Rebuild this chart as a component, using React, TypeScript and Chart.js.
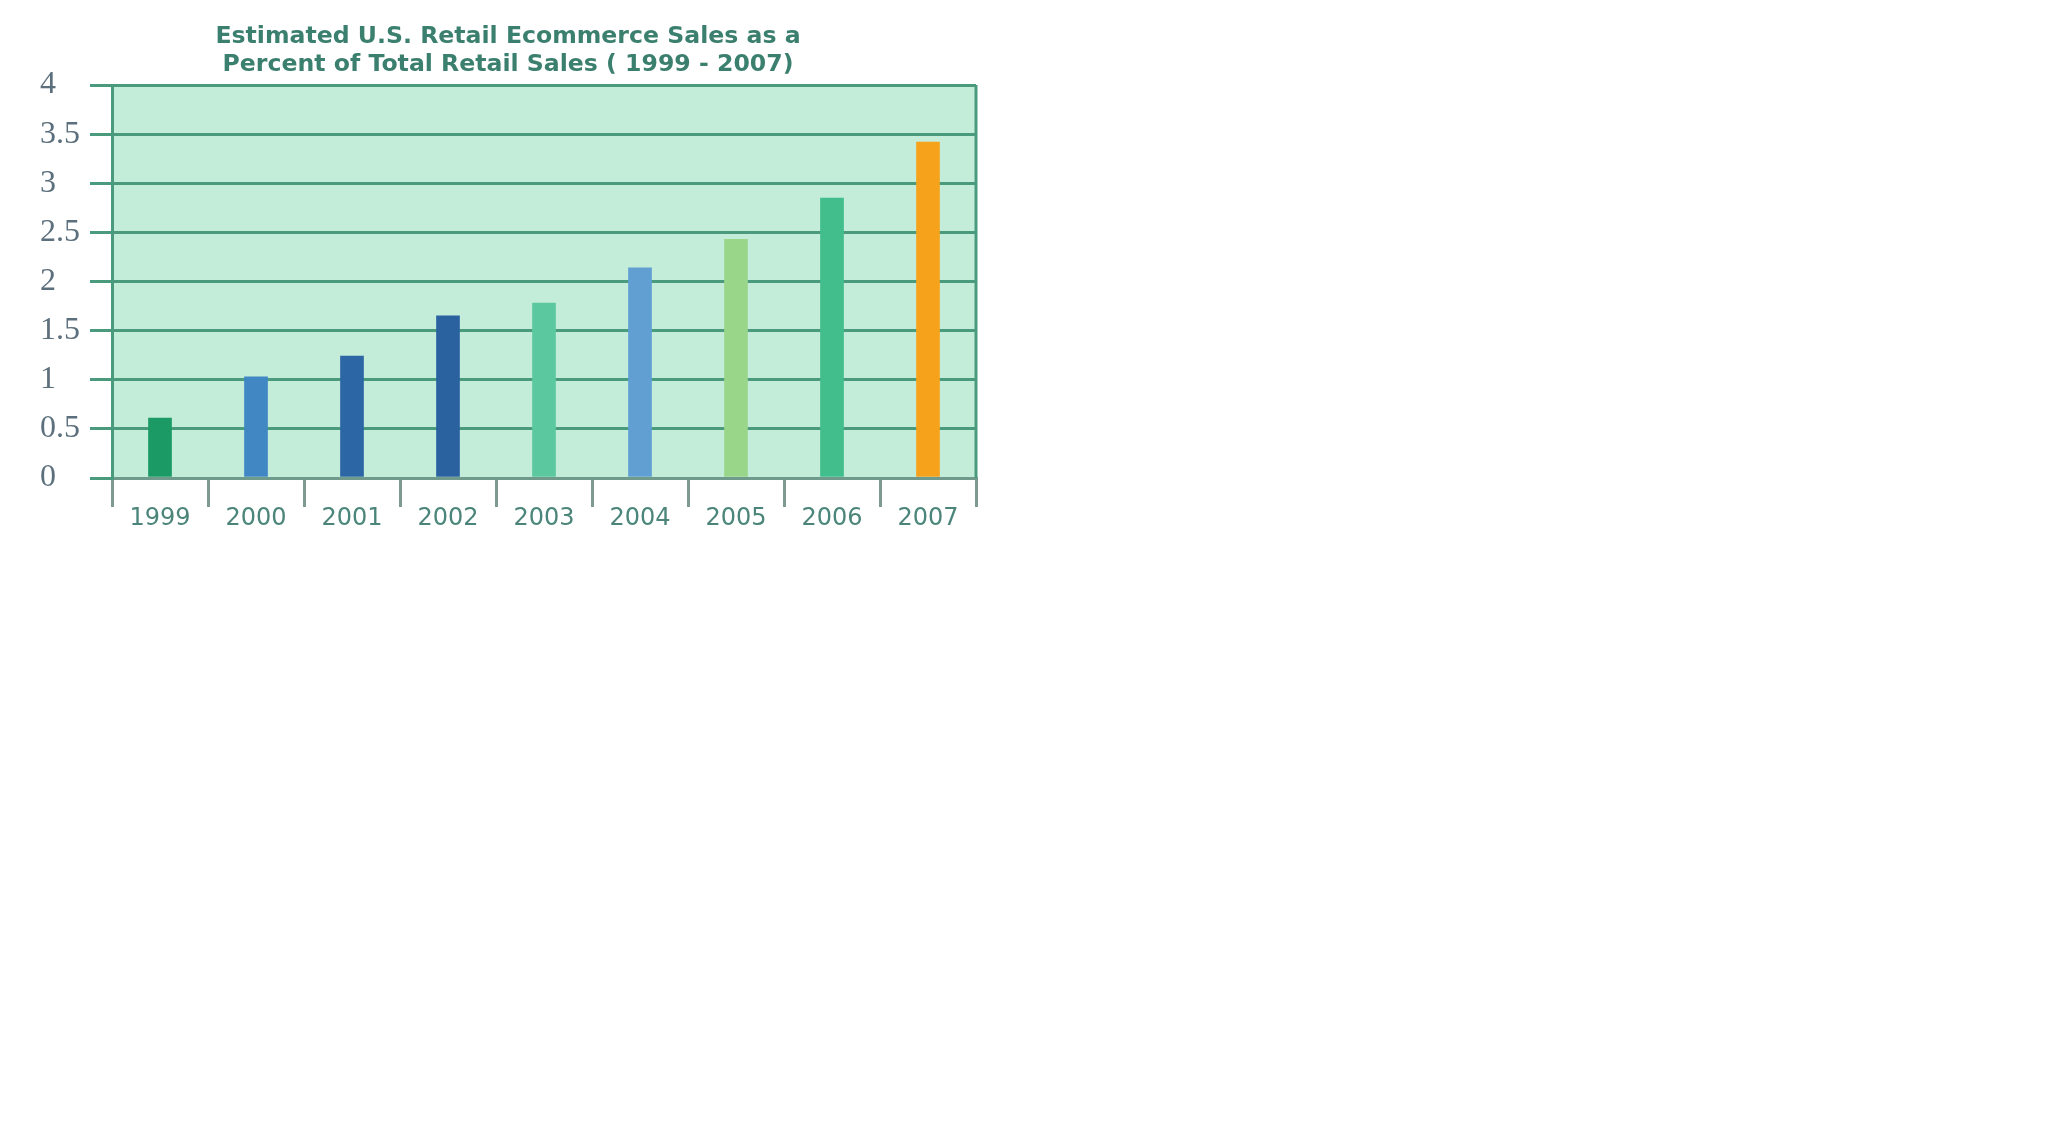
import { useEffect, useRef } from 'react';
import { Chart, registerables, type Plugin } from 'chart.js';

Chart.register(...registerables);

const years = ['1999', '2000', '2001', '2002', '2003', '2004', '2005', '2006', '2007'];
const ecommerceShare = [0.61, 1.03, 1.24, 1.65, 1.78, 2.14, 2.43, 2.85, 3.42];
const titleLines = [
  'Estimated U.S. Retail Ecommerce Sales as a',
  'Percent of Total Retail Sales ( 1999 - 2007)',
];

const barColors = [
  '#1b9a66',
  '#4087c4',
  '#2c66a4',
  '#2a62a0',
  '#5cc8a0',
  '#619fd3',
  '#9ad68a',
  '#42bd8c',
  '#f7a21b',
];

const GRID_GREEN = '#4a9b7e';

// mint plot background plus the right-hand frame line
const plotFrame: Plugin<'bar'> = {
  id: 'plotFrame',
  beforeDraw(chart) {
    const { ctx, chartArea } = chart;
    if (!chartArea) return;
    ctx.save();
    ctx.fillStyle = '#c3ecd9';
    ctx.fillRect(chartArea.left, chartArea.top, chartArea.right - chartArea.left, chartArea.bottom - chartArea.top);
    ctx.restore();
  },
  afterDraw(chart) {
    const { ctx, chartArea } = chart;
    ctx.save();
    ctx.strokeStyle = GRID_GREEN;
    ctx.lineWidth = 3;
    ctx.beginPath();
    ctx.moveTo(chartArea.right, chartArea.top);
    ctx.lineTo(chartArea.right, chartArea.bottom);
    ctx.stroke();
    ctx.restore();
  },
};

function EcommerceChart() {
  const canvasRef = useRef<HTMLCanvasElement>(null);
  const chartRef = useRef<Chart<'bar'> | null>(null);

  useEffect(() => {
    if (!canvasRef.current) return;
    chartRef.current?.destroy();

    chartRef.current = new Chart(canvasRef.current, {
      type: 'bar',
      data: {
        labels: years,
        datasets: [
          {
            label: 'Ecommerce share',
            data: ecommerceShare,
            backgroundColor: barColors,
            barThickness: 23,
          },
        ],
      },
      options: {
        animation: false,
        responsive: true,
        maintainAspectRatio: false,
        devicePixelRatio: 1,
        layout: { padding: { left: 40, right: 42, top: 0, bottom: 0 } },
        plugins: {
          legend: { display: false },
          tooltip: { enabled: false },
          title: {
            display: true,
            text: titleLines,
            color: '#3b7f6e',
            font: { family: 'DejaVu Sans', size: 23.6, weight: 'bold', lineHeight: 1.22 },
            padding: { top: 22, bottom: 5.5 },
          },
        },
        scales: {
          x: {
            afterFit: (scale) => {
              scale.height = 60;
            },
            grid: {
              drawOnChartArea: false,
              drawTicks: true,
              tickLength: 29,
              color: '#7e9a92',
              tickColor: '#7e9a92',
              tickWidth: 3,
              lineWidth: 3,
            },
            border: { display: true, color: '#6f9a8c', width: 3 },
            ticks: {
              color: '#4b8579',
              padding: -3,
              font: { family: 'DejaVu Sans', size: 24 },
            },
          },
          y: {
            min: 0,
            max: 4,
            afterFit: (scale) => {
              scale.width = 72;
            },
            grid: {
              color: GRID_GREEN,
              lineWidth: 3,
              drawTicks: true,
              tickLength: 22,
            },
            border: { display: true, color: GRID_GREEN, width: 3 },
            ticks: {
              stepSize: 0.5,
              crossAlign: 'far',
              color: '#5c6f7c',
              font: { family: 'Liberation Serif', size: 32 },
              callback: (v) => String(Number(v)),
            },
          },
        },
      },
      plugins: [plotFrame],
    });

    return () => {
      chartRef.current?.destroy();
    };
  }, []);

  return <canvas ref={canvasRef} />;
}

export default function App() {
  return (
    <div style={{ position: 'absolute', left: 0, top: 0, width: 1018, height: 538 }}>
      <EcommerceChart />
    </div>
  );
}
